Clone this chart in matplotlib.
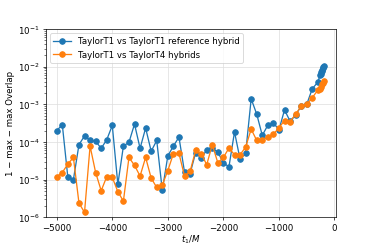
import matplotlib
matplotlib.use("Agg")
import matplotlib.pyplot as plt

# t_1/M positions
t1 = [-5000, -4900, -4800, -4700, -4600, -4500, -4400, -4300, -4200, -4100,
      -4000, -3900, -3800, -3700, -3600, -3500, -3400, -3300, -3200, -3100,
      -3000, -2900, -2800, -2700, -2600, -2500, -2400, -2300, -2200, -2100,
      -2000, -1900, -1800, -1700, -1600, -1500, -1400, -1300, -1200, -1100,
      -1000, -900, -800, -700, -600, -500, -400, -300]
t1_tail_ref = [-260, -250, -240, -230, -220, -210, -200, -190]
t1_tail_t4 = [-260, -240, -220, -200, -190]

# TaylorT1 vs TaylorT1 reference hybrid
ref_hybrid = [2.0e-4, 2.9e-4, 1.15e-5, 1.0e-5, 8.5e-5, 1.45e-4, 1.1e-4, 1.05e-4, 6.8e-5, 1.15e-4,
              2.75e-4, 7.5e-6, 7.8e-5, 9.8e-5, 3.0e-4, 6.8e-5, 2.35e-4, 5.7e-5, 1.1e-4, 5.2e-6,
              4.3e-5, 7.8e-5, 1.35e-4, 1.6e-5, 1.45e-5, 5.2e-5, 3.7e-5, 6.2e-5, 6.8e-5, 5.4e-5,
              2.8e-5, 2.2e-5, 1.85e-4, 3.5e-5, 5.0e-5, 1.4e-3, 5.5e-4, 1.5e-4, 2.8e-4, 3.25e-4,
              2.1e-4, 7.1e-4, 3.6e-4, 5.1e-4, 9.1e-4, 1.0e-3, 2.6e-3, 3.9e-3]
ref_hybrid_tail = [6.0e-3, 6.6e-3, 7.2e-3, 7.8e-3, 8.4e-3, 9.0e-3, 9.7e-3, 1.05e-2]

# TaylorT1 vs TaylorT4 hybrids
t4_hybrid = [1.2e-5, 1.55e-5, 2.6e-5, 3.9e-5, 2.4e-6, 1.35e-6, 7.8e-5, 1.55e-5, 5.1e-6, 1.2e-5,
             1.15e-5, 4.8e-6, 2.7e-6, 3.9e-5, 2.4e-5, 1.25e-5, 3.9e-5, 1.1e-5, 6.2e-6, 7.2e-6,
             1.75e-5, 4.9e-5, 5.0e-5, 1.25e-5, 1.65e-5, 6.0e-5, 4.9e-5, 2.5e-5, 8.5e-5, 2.8e-5,
             3.9e-5, 6.9e-5, 4.6e-5, 4.6e-5, 7.3e-5, 2.2e-4, 1.1e-4, 1.1e-4, 1.4e-4, 1.6e-4,
             2.4e-4, 3.7e-4, 3.5e-4, 5.4e-4, 9.1e-4, 1.0e-3, 1.5e-3, 2.4e-3]
t4_hybrid_tail = [2.6e-3, 2.9e-3, 3.4e-3, 3.8e-3, 4.2e-3]

plt.rcParams['font.size'] = 10

fig = plt.figure(figsize=(6.0, 4.0), dpi=62.34)
ax = fig.add_subplot(111)
fig.subplots_adjust(left=0.122, right=0.898, bottom=0.127, top=0.882)

ax.semilogy(t1 + t1_tail_ref, ref_hybrid + ref_hybrid_tail, 'o-', color='tab:blue',
            ms=6.5, label='TaylorT1 vs TaylorT1 reference hybrid')
ax.semilogy(t1 + t1_tail_t4, t4_hybrid + t4_hybrid_tail, 'o-', color='tab:orange',
            ms=6.5, label='TaylorT1 vs TaylorT4 hybrids')

ax.set_xlim(-5200, 25)
ax.set_ylim(1e-6, 1e-1)
ax.grid(True, color='#dddddd', lw=0.8)
ax.set_xlabel('$t_1/M$', labelpad=1)
ax.set_ylabel('1 − max − max Overlap')
ax.legend(loc='upper left')

fig.savefig('out.png', dpi=62.34)
